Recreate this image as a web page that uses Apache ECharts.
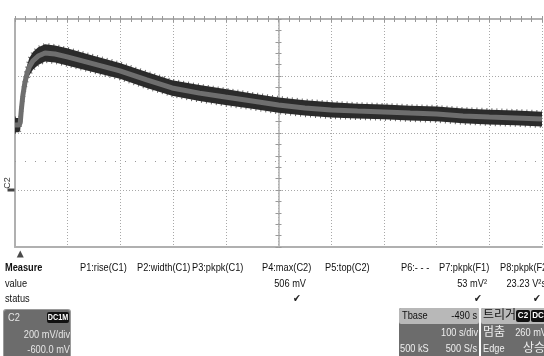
<!DOCTYPE html>
<html><head><meta charset="utf-8">
<script src="https://cdn.jsdelivr.net/npm/echarts@6/dist/echarts.min.js"></script>
<style>html,body{margin:0;padding:0;background:#fff}#c{width:544px;height:356px}</style>
</head><body><div id="c"></div>
<script>
// ---- data (time in s, voltage in mV) ----
const timeS   = [-500,-492,-490,-488,-485,-481,-477,-473,-466,-456,-443,-424,-401,-358,-301,-250,-202,-150,-101,-50,0,50,100,150,200,250,300,350,400,450,500];
const upperMv = [253,253,262,305,357,405,438,462,484,501,511,507,497,475,446,414,385,368,354,339,325,315,308,303,300,296,293,286,282,279,275];
const lowerMv = [203,203,212,258,310,353,382,402,422,439,451,447,437,417,390,358,331,312,298,285,271,261,254,251,248,244,241,234,230,227,223];
const coreMv  = [228,228,237,281,333,379,410,432,453,470,481,477,467,446,418,386,358,340,326,312,298,288,281,277,274,270,267,260,256,253,249];
const timeRange = {min:-500, max:500, interval:100};
const voltRange = {min:-200, max:600, interval:200};
const refLevelMv = 100;
const triggerTimeS = -490;

const measHeaders = ['P1:rise(C1)','P2:width(C1)','P3:pkpk(C1)','P4:max(C2)','P5:top(C2)','P6:- - -','P7:pkpk(F1)','P8:pkpk(F2)'];
const measValues  = ['','','','506 mV','','','53 mV²','23.23 V²s'];
const measStatus  = ['','','','✔','','','✔','✔'];
const rowLabels   = ['Measure','value','status'];
const chanInfo    = ['C2','DC1M','200 mV/div','-600.0 mV'];
const tbaseInfo   = ['Tbase','-490 s','100 s/div','500 kS','500 S/s'];
const trigInfo    = ['트리거','C2','DC','멈춤','260 mV','Edge','상승'];

const FONT = '"Liberation Sans","Noto Sans CJK KR",sans-serif';
const pair = (a) => timeS.map((t,i)=>[t,a[i]]);
const SX = 0.84; // condensed look

function txt(text,x,y,o){o=o||{};return {type:'text',x:x,y:y,z:100,scaleX:o.sx||SX,rotation:o.rot||0,style:{text:text,fill:o.fill||'#111',font:(o.bold?'bold ':'')+(o.size||11)+'px '+FONT,textAlign:o.align||'left',textVerticalAlign:'middle'}};}
function rect(x,y,w,h,fill,r){return {type:'rect',z:90,shape:{x:x,y:y,width:w,height:h,r:r||0},style:{fill:fill}};}

const hx = [80,137,192,262,325,401,439,500];
const hr = [0,0,0,306,0,0,487,546];
const gfx = [];
gfx.push(txt(rowLabels[0],5,268,{bold:true}));
gfx.push(txt(rowLabels[1],5,284));
gfx.push(txt(rowLabels[2],5,299));
measHeaders.forEach((h,i)=>{
  gfx.push(txt(h,hx[i],268));
  if(measValues[i]) gfx.push(txt(measValues[i],hr[i],284,{align:'right'}));
  if(measStatus[i]) gfx.push(txt(measStatus[i],hr[i]-5,299,{align:'right',size:11,fill:'#222'}));
});
// channel panel
gfx.push(rect(3,309,68,50,'#9a9a9a',3));
gfx.push(rect(4,310,66,48,'#6c6c6c',3));
gfx.push(txt(chanInfo[0],8,318,{fill:'#e6e6e6'}));
gfx.push(rect(47,312,22,11,'#111',2));
gfx.push(txt(chanInfo[1],58,318,{fill:'#fff',align:'center',size:9,bold:true,sx:0.8}));
gfx.push(txt(chanInfo[2],70,335,{fill:'#e6e6e6',align:'right'}));
gfx.push(txt(chanInfo[3],70,350,{fill:'#e6e6e6',align:'right'}));
// timebase panel
gfx.push(rect(399,308,80,50,'#6c6c6c',2));
gfx.push(rect(399,308,80,16,'#b8b8b8',2));
gfx.push(txt(tbaseInfo[0],402,316,{fill:'#111'}));
gfx.push(txt(tbaseInfo[1],477,316,{fill:'#111',align:'right'}));
gfx.push(txt(tbaseInfo[2],478,333,{fill:'#eee',align:'right'}));
gfx.push(txt(tbaseInfo[3],400,349,{fill:'#eee'}));
gfx.push(txt(tbaseInfo[4],477,349,{fill:'#eee',align:'right'}));
// trigger panel
gfx.push(rect(481,308,66,50,'#6c6c6c',2));
gfx.push(rect(481,308,66,16,'#b8b8b8',2));
gfx.push(txt(trigInfo[0],483,316,{fill:'#111',size:12,sx:1}));
gfx.push(rect(516,310,14,12,'#111',2));
gfx.push(txt(trigInfo[1],523,316,{fill:'#fff',align:'center',size:9,bold:true,sx:0.9}));
gfx.push(rect(531,310,14,12,'#111',2));
gfx.push(txt(trigInfo[2],538,316,{fill:'#fff',align:'center',size:9,bold:true,sx:0.9}));
gfx.push(txt(trigInfo[3],483,333,{fill:'#eee',size:12,sx:1}));
gfx.push(txt(trigInfo[4],547,333,{fill:'#eee',align:'right'}));
gfx.push(txt(trigInfo[5],483,349,{fill:'#eee'}));
gfx.push(txt(trigInfo[6],545,349,{fill:'#eee',align:'right',size:12,sx:1}));
// channel marker label
gfx.push(txt('C2',8,183,{fill:'#333',size:9,rot:Math.PI/2,align:'center',sx:1}));

const dotted = {color:'#a8a8a8', type:[1,2], width:1};
const solid = {color:'#b0b0b0', width:2};
function xAx(extra){return Object.assign({type:'value',min:timeRange.min,max:timeRange.max,interval:timeRange.interval,axisLabel:{show:false},splitLine:{show:false},axisTick:{show:false},axisLine:{show:false,onZero:false}},extra);}
function yAx(extra){return Object.assign({type:'value',min:voltRange.min,max:voltRange.max,interval:voltRange.interval,axisLabel:{show:false},splitLine:{show:false},axisTick:{show:false},axisLine:{show:false,onZero:false}},extra);}
const tickStyle = {color:'#999',width:1};

function renderBand(params, api){
  const pts = [];
  for(let i=0;i<timeS.length;i++) pts.push(api.coord([timeS[i],upperMv[i]]));
  for(let i=timeS.length-1;i>=0;i--) pts.push(api.coord([timeS[i],lowerMv[i]]));
  return {type:'polygon',shape:{points:pts},style:{fill:'#2b2b2b'}};
}

const chart = echarts.init(document.getElementById('c'),null,{renderer:'canvas'});
chart.setOption({
  animation:false,
  backgroundColor:'#fff',
  grid:{left:15,right:2,top:19,bottom:109},
  xAxis:[
    xAx({position:'bottom',axisLine:{show:true,onZero:false,lineStyle:solid},splitLine:{show:true,lineStyle:dotted}}),
    xAx({position:'top',axisLine:{show:true,onZero:false,lineStyle:solid},axisTick:{show:true,inside:false,length:3,lineStyle:tickStyle},minorTick:{show:true,splitNumber:5,length:3,lineStyle:tickStyle}}),
    xAx({position:'top',axisTick:{show:true,inside:true,length:3,lineStyle:tickStyle},minorTick:{show:true,splitNumber:5,length:3,lineStyle:tickStyle}})
  ],
  yAxis:[
    yAx({position:'left',axisLine:{show:true,onZero:false,lineStyle:solid},splitLine:{show:true,lineStyle:dotted}}),
    yAx({position:'left',axisLine:{show:true,onZero:true,onZeroAxisIndex:0,lineStyle:{color:'#b0b0b0',width:1.5}},axisTick:{show:true,inside:false,length:3,lineStyle:tickStyle},minorTick:{show:true,splitNumber:5,length:3,lineStyle:tickStyle}}),
    yAx({position:'left',axisLine:{show:false,onZero:true,onZeroAxisIndex:0},axisTick:{show:true,inside:true,length:3,lineStyle:tickStyle},minorTick:{show:true,splitNumber:5,length:3,lineStyle:tickStyle}})
  ],
  graphic:{elements:gfx},
  series:[
    {type:'custom',name:'band',coordinateSystem:'cartesian2d',data:[[timeS[0],upperMv[0]]],renderItem:renderBand,silent:true,z:2,
      markLine:{symbol:'none',silent:true,label:{show:false},lineStyle:{color:'#999',type:[1,9],width:1},data:[{yAxis:refLevelMv}]},
      markPoint:{silent:true,label:{show:false},data:[
        {coord:[triggerTimeS,voltRange.min],symbol:'triangle',symbolSize:[7,7],symbolOffset:[0,7],itemStyle:{color:'#4a4a4a'}},
        {coord:[timeRange.min,0],symbol:'rect',symbolSize:[7,3],symbolOffset:[-4,0],itemStyle:{color:'#444'}}
      ]}},
    {type:'line',name:'upperEdge',data:pair(upperMv),symbol:'none',lineStyle:{color:'#2a2a2a',width:3,type:[1,4],opacity:0.7},silent:true,z:3},
    {type:'line',name:'lowerEdge',data:pair(lowerMv),symbol:'none',lineStyle:{color:'#2a2a2a',width:3,type:[1,4],opacity:0.7},silent:true,z:3},
    {type:'line',name:'core',data:pair(coreMv),symbol:'none',lineStyle:{color:'#6e6e6e',width:5},silent:true,z:4}
  ]
});
</script></body></html>
